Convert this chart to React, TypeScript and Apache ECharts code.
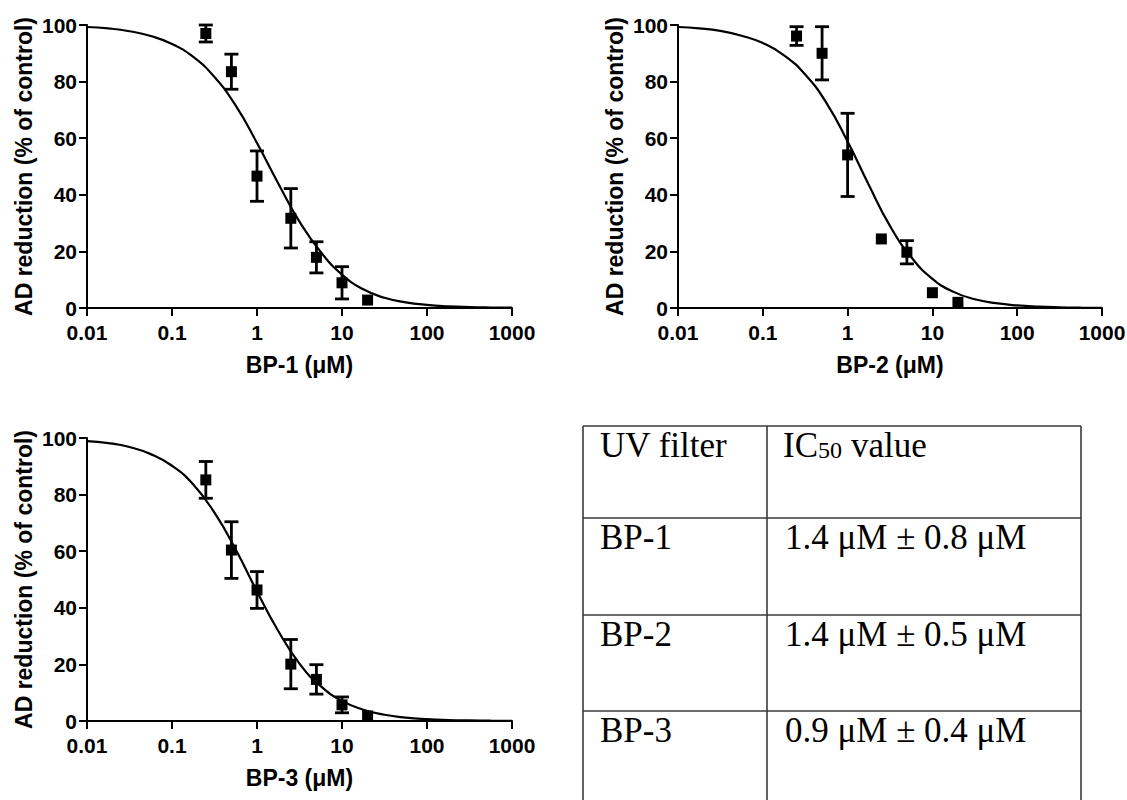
import React, { useEffect, useRef } from "react";
import * as echarts from "echarts";

// ---------- data ----------
const concentrations = [0.25, 0.5, 1, 2.5, 5, 10, 20];

const bp1Mean = [97, 83.5, 46.6, 31.7, 17.9, 8.9, 2.8];
const bp1Err = [3, 6.2, 8.9, 10.5, 5.5, 5.7, 0];

const bp2Mean = [96.1, 90, 54.1, 24.4, 19.7, 5.4, 2.0];
const bp2Err = [3.3, 9.4, 14.7, 0, 4.1, 0, 0];

const bp3Mean = [85.2, 60.4, 46.3, 20.1, 14.7, 5.7, 1.8];
const bp3Err = [6.5, 10, 6.5, 8.7, 5.2, 2.8, 0];

// fitted curves at quarter-decade concentrations
const curveX = [
  0.01, 0.0178, 0.0316, 0.0562, 0.1, 0.178, 0.316, 0.562, 1, 1.78, 3.16,
  5.62, 10, 17.8, 31.6, 56.2, 100, 178, 316, 562, 1000,
];
const bp1Curve = [
  99.3, 98.8, 97.8, 96.1, 93.3, 88.7, 81.6, 71.5, 58.3, 44.0, 30.5,
  19.8, 11.8, 6.6, 3.6, 2.0, 1.1, 0.6, 0.33, 0.18, 0.1,
];
const bp2Curve = [
  99.3, 98.8, 97.9, 96.2, 93.6, 89.3, 82.5, 72.5, 58.8, 43.5, 29.0,
  18.0, 10.3, 5.7, 3.1, 1.7, 0.9, 0.48, 0.25, 0.13, 0.07,
];
const bp3Curve = [
  98.9, 98.2, 96.8, 94.3, 90.2, 83.6, 73.6, 60.6, 45.8, 31.8, 20.3,
  12.3, 7.1, 4.0, 2.2, 1.2, 0.65, 0.35, 0.19, 0.1, 0.05,
];

const xTickLabels = ["0.01", "0.1", "1", "10", "100", "1000"];
const yTickValues = [0, 20, 40, 60, 80, 100];

const xTitles = ["BP-1 (μM)", "BP-2 (μM)", "BP-3 (μM)"];
const yTitle = "AD reduction (% of control)";

const tableHeaderFilter = "UV filter";
const tableHeaderValueMain = "IC";
const tableHeaderValueSub = "50";
const tableHeaderValueRest = "value";
const tableFilters = ["BP-1", "BP-2", "BP-3"];
const tableValues = ["1.4 μM ± 0.8 μM", "1.4 μM ± 0.5 μM", "0.9 μM ± 0.4 μM"];

// ---------- styling / layout ----------
const SANS = "'Liberation Sans', Arial, Helvetica, sans-serif";
const SERIF = "'Liberation Serif', 'Times New Roman', serif";

const grids = [
  { left: 87, top: 25, width: 425, height: 283 },
  { left: 678, top: 25, width: 424, height: 283 },
  { left: 87, top: 438, width: 425, height: 283 },
];

function makeXAxis(i: number) {
  return {
    type: "log",
    logBase: 10,
    gridIndex: i,
    min: 0.01,
    max: 1000,
    name: xTitles[i],
    nameLocation: "middle",
    nameGap: 45,
    nameTextStyle: { fontFamily: SANS, fontWeight: "bold", fontSize: 23, color: "#000" },
    axisLine: { show: true, onZero: false, lineStyle: { color: "#000", width: 2 } },
    axisTick: { show: true, length: 8, lineStyle: { color: "#000", width: 2 } },
    minorTick: { show: false },
    axisLabel: {
      margin: 14,
      fontFamily: SANS,
      fontWeight: "bold",
      fontSize: 21,
      color: "#000",
      formatter: (v: number) => {
        const idx = Math.round(Math.log10(v)) + 2;
        return xTickLabels[idx] ?? "";
      },
    },
    splitLine: { show: false },
  };
}

function makeYAxis(i: number) {
  return {
    type: "value",
    gridIndex: i,
    min: yTickValues[0],
    max: yTickValues[yTickValues.length - 1],
    interval: 20,
    name: yTitle,
    nameLocation: "middle",
    nameGap: 52,
    nameTextStyle: { fontFamily: SANS, fontWeight: "bold", fontSize: 23, color: "#000" },
    axisLine: { show: true, onZero: false, lineStyle: { color: "#000", width: 2 } },
    axisTick: { show: true, length: 8, lineStyle: { color: "#000", width: 2 } },
    axisLabel: {
      margin: 10,
      fontFamily: SANS,
      fontWeight: "bold",
      fontSize: 21,
      color: "#000",
    },
    splitLine: { show: false },
  };
}

function errorBarRender(params: any, api: any) {
  const x = api.value(0);
  const y = api.value(1);
  const e = api.value(2);
  if (!e) return { type: "group", children: [] };
  const top = api.coord([x, y + e]);
  const bot = api.coord([x, y - e]);
  const half = 7;
  const style = { stroke: "#000", lineWidth: 2.8 };
  return {
    type: "group",
    children: [
      { type: "line", shape: { x1: top[0], y1: top[1], x2: bot[0], y2: bot[1] }, style },
      { type: "line", shape: { x1: top[0] - half, y1: top[1], x2: top[0] + half, y2: top[1] }, style },
      { type: "line", shape: { x1: bot[0] - half, y1: bot[1], x2: bot[0] + half, y2: bot[1] }, style },
    ],
  };
}

function panelSeries(i: number, mean: number[], err: number[], curve: number[]) {
  return [
    {
      type: "line",
      xAxisIndex: i,
      yAxisIndex: i,
      data: curveX.map((x, k) => [x, curve[k]]),
      showSymbol: false,
      symbol: "none",
      smooth: 0.5,
      lineStyle: { color: "#000", width: 2.2 },
      z: 2,
      silent: true,
    },
    {
      type: "custom",
      xAxisIndex: i,
      yAxisIndex: i,
      data: concentrations.map((c, k) => [c, mean[k], err[k]]),
      encode: { x: 0, y: 1 },
      renderItem: errorBarRender,
      clip: false,
      z: 3,
      silent: true,
    },
    {
      type: "scatter",
      xAxisIndex: i,
      yAxisIndex: i,
      data: concentrations.map((c, k) => [c, mean[k]]),
      symbol: "rect",
      symbolSize: 11,
      itemStyle: { color: "#000", opacity: 1 },
      z: 4,
      silent: true,
    },
  ];
}

function tableGraphics() {
  const left = 583;
  const mid = 767;
  const right = 1081;
  const rowTops = [426, 518, 615, 711];
  const bottom = 800;
  const lineStyle = { stroke: "#3a3a3a", lineWidth: 1.6 };
  const els: any[] = [];
  rowTops.forEach((y) => {
    els.push({ type: "line", shape: { x1: left, y1: y, x2: right, y2: y }, style: lineStyle });
  });
  [left, mid, right].forEach((x) => {
    els.push({ type: "line", shape: { x1: x, y1: rowTops[0], x2: x, y2: bottom }, style: lineStyle });
  });
  const fs = 35;
  const textStyle = (text: string, size = fs) => ({
    text,
    fontFamily: SERIF,
    fontSize: size,
    fill: "#000",
    align: "left",
    verticalAlign: "middle",
  });
  const midY = (top: number) => top + 19;
  els.push({ type: "text", x: 600, y: midY(rowTops[0]), style: textStyle(tableHeaderFilter) });
  els.push({ type: "text", x: 783, y: midY(rowTops[0]), style: textStyle(tableHeaderValueMain) });
  els.push({ type: "text", x: 818, y: midY(rowTops[0]) + 5, style: textStyle(tableHeaderValueSub, 24) });
  els.push({ type: "text", x: 851, y: midY(rowTops[0]), style: textStyle(tableHeaderValueRest) });
  tableFilters.forEach((f, k) => {
    els.push({ type: "text", x: 600, y: midY(rowTops[k + 1]), style: textStyle(f) });
    els.push({ type: "text", x: 785, y: midY(rowTops[k + 1]), style: textStyle(tableValues[k]) });
  });
  return els;
}

function buildOption() {
  return {
    animation: false,
    backgroundColor: "#fff",
    grid: grids.map((g) => ({ ...g, containLabel: false, outerBoundsMode: "none" })),
    xAxis: [0, 1, 2].map(makeXAxis),
    yAxis: [0, 1, 2].map(makeYAxis),
    series: [
      ...panelSeries(0, bp1Mean, bp1Err, bp1Curve),
      ...panelSeries(1, bp2Mean, bp2Err, bp2Curve),
      ...panelSeries(2, bp3Mean, bp3Err, bp3Curve),
    ],
    graphic: tableGraphics(),
  };
}

export default function App() {
  const ref = useRef<HTMLDivElement>(null);
  useEffect(() => {
    if (!ref.current) return;
    const chart = echarts.init(ref.current, null, { renderer: "svg" });
    chart.setOption(buildOption() as any);
    return () => chart.dispose();
  }, []);
  return (
    <div
      ref={ref}
      style={{ position: "absolute", left: 0, top: 0, width: 1127, height: 800, background: "#fff" }}
    />
  );
}
